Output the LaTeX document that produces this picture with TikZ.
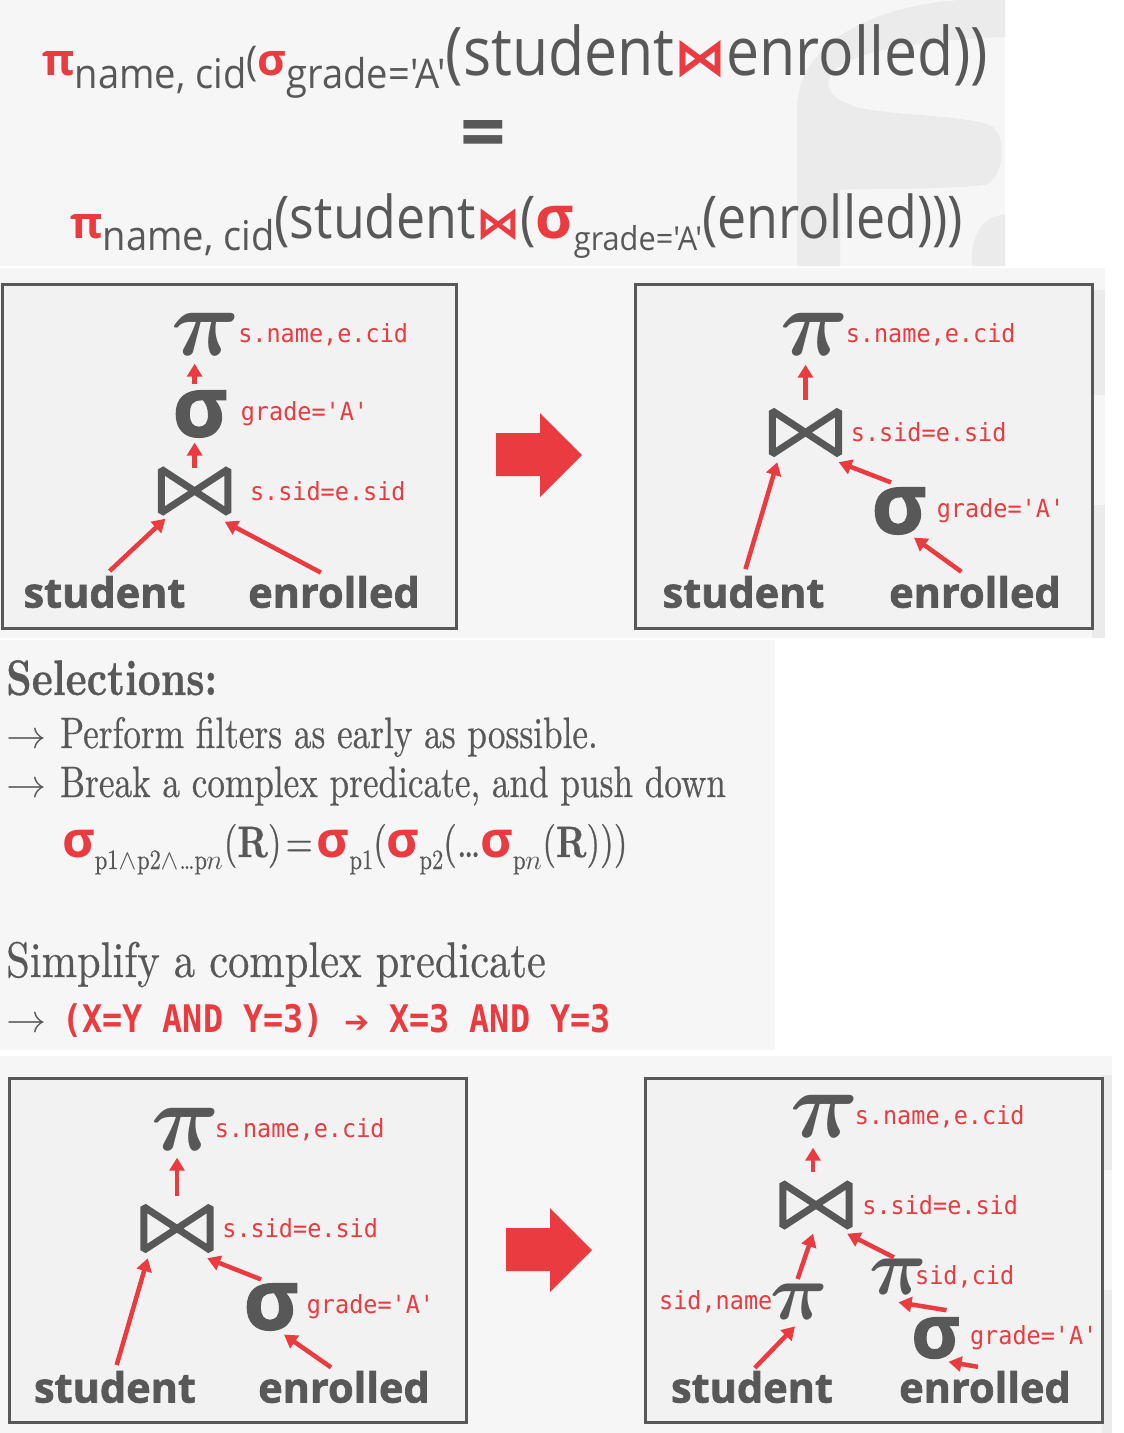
\documentclass[tikz,border=0pt]{standalone}
\usepackage{amsmath,amssymb}
\usepackage{fontspec}
\usepackage{tikz}
\usetikzlibrary{arrows.meta,positioning}
\usepackage{xcolor}

\newfontfamily\osans{Open Sans}
\newfontfamily\osansheavy[FakeBold=1.6]{Open Sans}
\newfontfamily\osanscond[FakeStretch=0.93]{Open Sans}
\newfontfamily\osansbig[FakeStretch=0.88]{Open Sans}
\newfontfamily\omono[FakeStretch=0.94]{DejaVu Sans Mono}
\newfontfamily\omonorule[FakeStretch=0.88]{DejaVu Sans Mono}
\newfontfamily\gara[FakeStretch=0.8, FakeBold=0.5, BoldFont=lmroman10-bold.otf]{lmroman10-regular.otf}
\newfontfamily\garawide[FakeStretch=0.85, FakeBold=0.5]{lmroman10-regular.otf}
\newfontfamily\dvsans{DejaVu Sans}
\newfontfamily\lmmath{latinmodern-math.otf}

\definecolor{dbred}{RGB}{234,59,64}
\definecolor{dbgray}{RGB}{88,88,88}
\definecolor{boxfill}{RGB}{242,242,242}
\definecolor{slidebg}{RGB}{246,246,246}
\definecolor{logogray}{RGB}{235,235,235}

\newcommand{\fsz}[1]{\fontsize{#1}{#1}\selectfont}
\newcommand{\joinglyph}[1]{\draw[joinline] (#1.north west) -- (#1.south west) -- (#1.north east) -- (#1.south east) -- cycle;}

\tikzset{
  opbox/.style={draw=dbgray, line width=3pt, fill=boxfill},
  pisym/.style={inner sep=0pt, text=dbgray, font=\lmmath\fsz{95}},
  sigsym/.style={inner sep=0pt, text=dbgray, font=\osansheavy\bfseries\fsz{84}},
  joinop/.style={inner sep=0pt, minimum width=66pt, minimum height=43pt},
  joinline/.style={draw=dbgray, line width=7pt, line join=bevel},
  cond/.style={inner sep=0pt, text=dbred, font=\omono\fsz{25}},
  rel/.style={inner sep=0pt, text=dbgray, font=\osansheavy\bfseries\fsz{41.5}},
  flow/.style={-{Triangle[length=13pt,width=15pt]}, draw=dbred, line width=4.5pt},
  push/.style={fill=dbred},
  slide/.style={inner sep=0pt, anchor=base west, text=dbgray}
}

\begin{document}
\begin{tikzpicture}[x=1pt, y=-1pt]
\useasboundingbox (0,0) rectangle (1124,1433);
% backgrounds of the cut-outs
\fill[white] (0,0) rectangle (1124,1433);
\fill[slidebg] (0,0) rectangle (1005,266);
\fill[slidebg] (0,268) rectangle (1105,638);
\fill[slidebg] (0,640) rectangle (775,1050);
\fill[slidebg] (0,1056) rectangle (1112,1433);
% faded logo
\fill[logogray] (1005,0) -- (1005,37) .. controls (930,40) and (860,48) .. (835,70) .. controls (820,85) and (830,100) .. (860,108) .. controls (900,116) and (960,115) .. (990,125) .. controls (1008,135) and (1005,178) .. (985,185) .. controls (940,190) and (870,188) .. (840,190) -- (840,266) -- (797,266) -- (797,110) .. controls (797,40) and (880,5) .. (960,0) -- cycle;
\fill[logogray] (1005,215) .. controls (980,215) and (970,240) .. (972,266) -- (1005,266) -- cycle;
\fill[logogray] (1092,290) rectangle (1105,395);
\fill[logogray] (1092,505) rectangle (1105,638);
\fill[logogray] (1102,1075) rectangle (1112,1170);
\fill[logogray] (1102,1290) rectangle (1112,1433);

% equivalence
\node[slide] (eqA) at (42,75) {%
  \textcolor{dbred}{\osans\bfseries\fsz{44}π}%
  \raisebox{-13pt}{\osanscond\fsz{41}name, cid}%
  {\osanscond\fsz{41}(}\textcolor{dbred}{\osans\bfseries\fsz{44}σ}%
  \raisebox{-13pt}{\osanscond\fsz{41}grade='A'}%
  {\osansbig\fsz{67}(student}\textcolor{dbred}{\dvsans\bfseries\fsz{52}⋈}%
  {\osansbig\fsz{67}enrolled))}};
\node[inner sep=0pt, text=dbgray, font=\osans\bfseries\fsz{80}] (eqsign) at (483,140) {=};
\node[slide] (eqB) at (70,238) {%
  \textcolor{dbred}{\osans\bfseries\fsz{44}π}%
  \raisebox{-12pt}{\osanscond\fsz{41}name, cid}%
  {\osansbig\fsz{59}(student}\textcolor{dbred}{\dvsans\bfseries\fsz{44}⋈}%
  {\osansbig\fsz{59}(}\textcolor{dbred}{\osans\bfseries\fsz{59}σ}%
  \raisebox{-12pt}{\osanscond\fsz{33}grade='A'}%
  {\osansbig\fsz{59}(enrolled)))}};

% plan 1
\draw[opbox] (2,284) rectangle (456,628);
\node[pisym] (pi1) at (203.5,335) {𝝅};
\node[cond, right=2pt of pi1] (pi1c) {s.name,e.cid};
\node[sigsym] (sig1) at (200,414) {σ};
\node[cond, right=13pt of sig1] (sig1c) {grade='A'};
\node[joinop] (join1) at (194.6,491) {};
\joinglyph{join1}
\node[cond, right=22pt of join1] (join1c) {s.sid=e.sid};
\node[rel] (stud1) at (104.5,592) {student};
\node[rel] (enr1) at (334,592) {enrolled};
\draw[flow, shorten <=1pt, shorten >=5pt] (join1.north) -- (join1.north |- sig1.south);
\draw[flow, shorten <=6pt, shorten >=7pt] (sig1.north -| join1.north) -- (join1.north |- pi1.south);
\draw[flow, shorten <=7pt] (stud1.north) -- ([xshift=4pt,yshift=-6pt]join1.south west);
\draw[flow, shorten <=7pt] ([xshift=-7pt]enr1.north) -- ([xshift=-3pt,yshift=-9pt]join1.south east);

\fill[push] (496,433) -- (540,433) -- (540,413) -- (582,455) -- (540,497) -- (540,476) -- (496,476) -- cycle;

% plan 2
\draw[opbox] (635,284) rectangle (1092,628);
\node[pisym] (pi2) at (813,335) {𝝅};
\node[cond, right=0pt of pi2] (pi2c) {s.name,e.cid};
\node[joinop] (join2) at (805.5,432.5) {};
\joinglyph{join2}
\node[cond, right=12pt of join2] (join2c) {s.sid=e.sid};
\node[sigsym] (sig2) at (899,511) {σ};
\node[cond, right=10pt of sig2] (sig2c) {grade='A'};
\node[rel] (stud2) at (743.5,592) {student};
\node[rel] (enr2) at (975,592) {enrolled};
\draw[flow, shorten <=11pt, shorten >=8pt] (join2.north) -- (join2.north |- pi2.south);
\draw[flow, shorten <=7pt] (stud2.north) -- ([xshift=5pt,yshift=-8pt]join2.south west);
\draw[flow] ([xshift=-8pt,yshift=5pt]sig2.north) -- ([yshift=-8pt]join2.south east);
\draw[flow, shorten <=7pt] ([xshift=-8pt]enr2.north) -- ([xshift=15pt,yshift=-3pt]sig2.south);

% rules
\node[slide, font=\gara\bfseries\fsz{50}] (selhead) at (6,695) {Selections:};
\node[slide] (tip1) at (6,748) {{\lmmath\fsz{40}→}\hspace{14pt}{\gara\fsz{44}Perform filters as early as possible.}};
\node[slide] (tip2) at (6,797) {{\lmmath\fsz{40}→}\hspace{14pt}{\gara\fsz{44}Break a complex predicate, and push down}};
\node[slide] (sigrule) at (62,857) {%
  \textcolor{dbred}{\osans\bfseries\fsz{50}σ}\raisebox{-12pt}{\gara\fsz{28}p1{\lmmath ∧}p2{\lmmath ∧}\ldots p{\lmmath 𝑛}}%
  {\gara\fsz{44}(\textbf{R})\hspace{4pt}=\hspace{4pt}}\textcolor{dbred}{\osans\bfseries\fsz{50}σ}\raisebox{-12pt}{\gara\fsz{28}p1}%
  {\gara\fsz{44}(}\textcolor{dbred}{\osans\bfseries\fsz{50}σ}\raisebox{-12pt}{\gara\fsz{28}p2}%
  {\gara\fsz{44}(\ldots}\textcolor{dbred}{\osans\bfseries\fsz{50}σ}\raisebox{-12pt}{\gara\fsz{28}p{\lmmath 𝑛}}%
  {\gara\fsz{44}(\textbf{R})))}};
\node[slide, font=\garawide\fsz{50}] (simphead) at (6,977) {Simplify a complex predicate};
\node[slide] (simprule) at (6,1032) {{\lmmath\fsz{40}→}\hspace{16pt}%
  \textcolor{dbred}{\omonorule\bfseries\fsz{38}(X=Y AND Y=3) {\dvsans\bfseries\fsz{30}➔} X=3 AND Y=3}};

% plan 3
\draw[opbox] (9,1078) rectangle (466,1422);
\node[pisym] (pi3) at (184,1130) {𝝅};
\node[cond, right=-2pt of pi3] (pi3c) {s.name,e.cid};
\node[joinop] (join3) at (177,1228.5) {};
\joinglyph{join3}
\node[cond, right=12pt of join3] (join3c) {s.sid=e.sid};
\node[sigsym] (sig3) at (271,1307) {σ};
\node[cond, right=8pt of sig3] (sig3c) {grade='A'};
\node[rel] (stud3) at (115,1387) {student};
\node[rel] (enr3) at (344,1387) {enrolled};
\draw[flow, shorten <=11pt, shorten >=6pt] (join3.north) -- (join3.north |- pi3.south);
\draw[flow, shorten <=6pt] (stud3.north) -- ([xshift=4pt,yshift=-8pt]join3.south west);
\draw[flow] ([xshift=-10pt,yshift=4pt]sig3.north) -- ([xshift=-3pt,yshift=-8pt]join3.south east);
\draw[flow, shorten <=6pt] ([xshift=-8pt]enr3.north) -- ([xshift=13pt,yshift=-4pt]sig3.south);

\fill[push] (506,1228) -- (550,1228) -- (550,1208) -- (592,1250) -- (550,1292) -- (550,1271) -- (506,1271) -- cycle;

% plan 4
\draw[opbox] (645,1078) rectangle (1102,1422);
\node[pisym] (pi4) at (823,1117) {𝝅};
\node[cond, right=-1pt of pi4] (pi4c) {s.name,e.cid};
\node[joinop] (join4) at (816,1205) {};
\joinglyph{join4}
\node[cond, right=13pt of join4] (join4c) {s.sid=e.sid};
\node[pisym, font=\lmmath\fsz{80}] (piL) at (798,1302) {𝝅};
\node[cond, left=-2pt of piL] (piLc) {sid,name};
\node[pisym, font=\lmmath\fsz{80}] (piR) at (896.5,1277) {𝝅};
\node[cond, right=-9pt of piR] (piRc) {sid,cid};
\node[sigsym, font=\osansheavy\bfseries\fsz{74}] (sig4) at (935.5,1338) {σ};
\node[cond, right=10pt of sig4] (sig4c) {grade='A'};
\node[rel] (stud4) at (752,1387) {student};
\node[rel] (enr4) at (985,1387) {enrolled};
\draw[flow, shorten <=11pt, shorten >=9pt] ([xshift=-3pt]join4.north) -- ([xshift=-3pt]join4.north |- pi4.south);
\draw[flow, shorten <=5pt] ([xshift=-2pt]piL.north) -- ([xshift=-3pt,yshift=-7pt]join4.south);
\draw[flow, shorten <=4pt] (stud4.north) -- ([xshift=-3pt,yshift=-6pt]piL.south);
\draw[flow, shorten <=3pt] (piR.north) -- ([xshift=-2pt,yshift=-7pt]join4.south east);
\draw[flow] ([xshift=11pt,yshift=7pt]sig4.north) -- ([xshift=2pt,yshift=-7pt]piR.south);
\draw[flow] ([xshift=-7pt,yshift=4pt]enr4.north) -- ([xshift=13pt,yshift=-3pt]sig4.south);
\end{tikzpicture}
\end{document}
